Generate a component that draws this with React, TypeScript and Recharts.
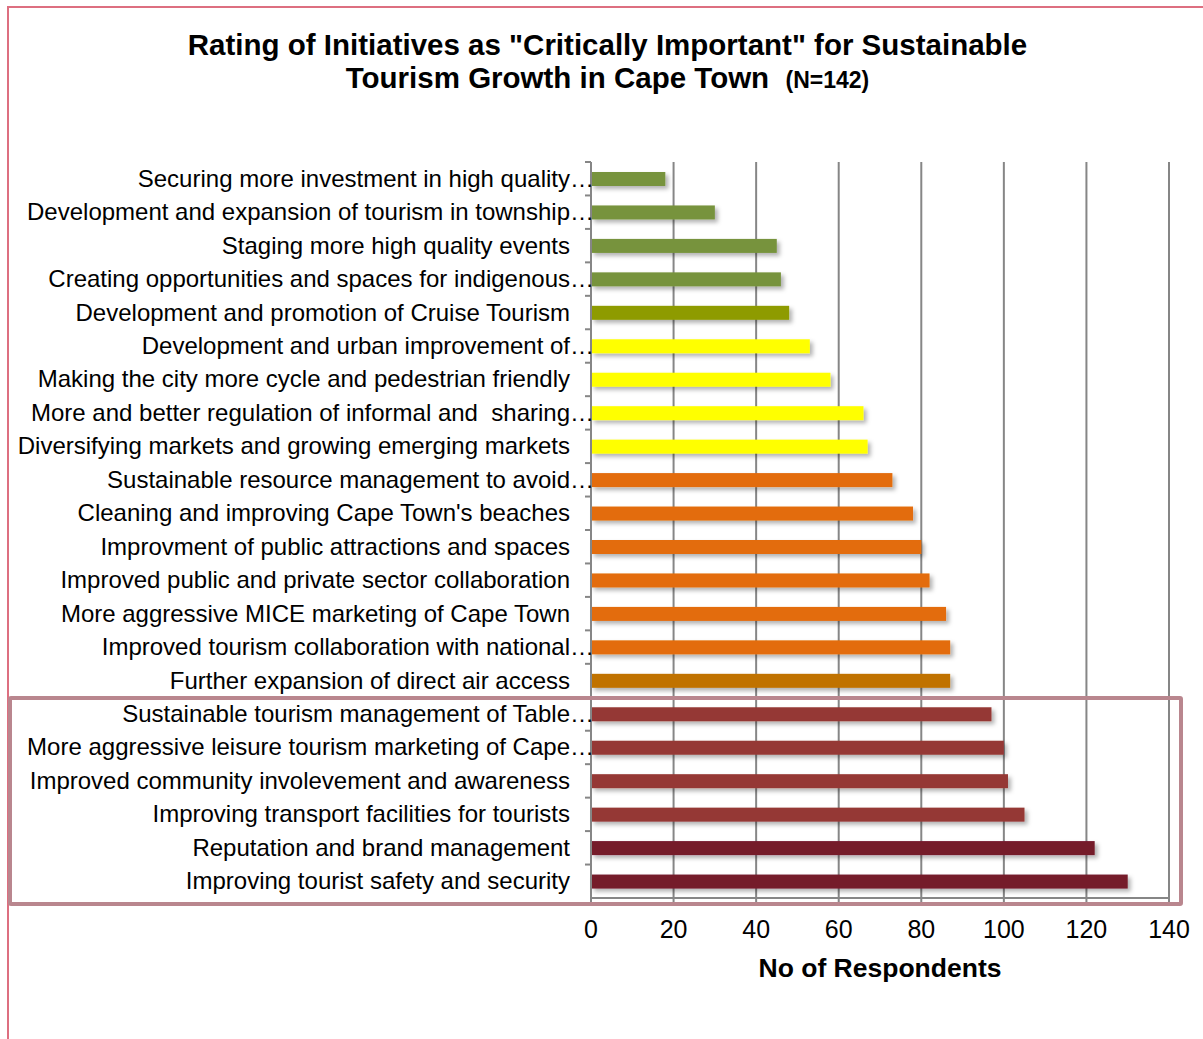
import React from 'react';
import { BarChart, Bar, XAxis, YAxis, CartesianGrid, Cell } from 'recharts';

// Initiatives, top of the chart first
const initiatives = [
  'Securing more investment in high quality…',
  'Development and expansion of tourism in township…',
  'Staging more high quality events ',
  'Creating opportunities and spaces for indigenous…',
  'Development and promotion of Cruise Tourism ',
  'Development and urban improvement of…',
  'Making the city more cycle and pedestrian friendly ',
  'More and better regulation of informal and  sharing…',
  'Diversifying markets and growing emerging markets  ',
  'Sustainable resource management to avoid…',
  "Cleaning and improving Cape Town's beaches ",
  'Improvment of public attractions and spaces ',
  'Improved public and private sector collaboration ',
  'More aggressive MICE marketing of Cape Town  ',
  'Improved tourism collaboration with national…',
  'Further expansion of direct air access ',
  'Sustainable tourism management of Table…',
  'More aggressive leisure tourism marketing of Cape…',
  'Improved community involevement and awareness ',
  'Improving transport facilities for tourists ',
  'Reputation and brand management ',
  'Improving tourist safety and security ',
];

// Respondents rating each initiative "critically important"
const respondents = [18, 30, 45, 46, 48, 53, 58, 66, 67, 73, 78, 80, 82, 86, 87, 87, 97, 100, 101, 105, 122, 130];

const xTicks = [0, 20, 40, 60, 80, 100, 120, 140];

const barColors = [
  '#77933C', '#77933C', '#77933C', '#77933C', '#8E9B00',
  '#FFFF00', '#FFFF00', '#FFFF00', '#FFFF00',
  '#E36C0A', '#E36C0A', '#E36C0A', '#E36C0A', '#E36C0A', '#E36C0A', '#C07200',
  '#953735', '#953735', '#953735', '#953735', '#741B2B', '#741B2B',
];

const data = initiatives.map((name, i) => ({ name, value: respondents[i] }));

const FONT = '"Liberation Sans", Arial, sans-serif';
const PLOT_TOP = 162;
const PLOT_BOTTOM = 898;
const HALF_BAND = (PLOT_BOTTOM - PLOT_TOP) / initiatives.length / 2;

const CategoryTick = (props: any) => {
  const { x, y, payload } = props;
  const label: string = payload.value;
  const clipped = label.endsWith('…');
  return (
    <g>
      <line x1={x + 2} x2={x + 8} y1={y - HALF_BAND} y2={y - HALF_BAND} stroke="#868686" strokeWidth={2} />
      <text
        x={clipped ? x + 11 : x - 13}
        y={y}
        dy={8}
        textAnchor="end"
        fontSize={24}
        fill="#000"
        style={{ whiteSpace: 'pre', fontFamily: FONT }}
      >
        {label.trimEnd()}
      </text>
    </g>
  );
};

const ShadowBar = (props: any) => {
  const { x, y, width, height, fill } = props;
  return <rect x={x} y={y} width={width} height={height} fill={fill} filter="url(#barShadow)" />;
};

export default function App() {
  return (
    <div style={{ position: 'absolute', left: 0, top: 0, width: 1203, height: 1039, background: '#fff', fontFamily: FONT }}>
      <svg width={0} height={0} style={{ position: 'absolute' }}>
        <defs>
          <filter id="barShadow" x="-5%" y="-50%" width="115%" height="250%">
            <feDropShadow dx={3} dy={3} stdDeviation={2} floodColor="#000" floodOpacity={0.3} />
          </filter>
        </defs>
      </svg>

      {/* frame edges */}
      <div style={{ position: 'absolute', left: 7, top: 6, width: 2, height: 1033, background: '#DD6F80' }} />
      <div style={{ position: 'absolute', left: 7, top: 6, width: 1196, height: 2, background: '#DD6F80' }} />

      <div style={{ position: 'absolute', left: 0, top: 28, width: 1215, textAlign: 'center', fontWeight: 'bold', fontSize: 29.5, lineHeight: '33px', color: '#000' }}>
        <div>Rating of Initiatives as "Critically Important" for Sustainable</div>
        <div>
          Tourism Growth in Cape Town&nbsp;&nbsp;<span style={{ fontSize: 23 }}>(N=142)</span>
        </div>
      </div>

      <div style={{ position: 'absolute', left: 0, top: 0 }}>
        <BarChart
          width={1203}
          height={1039}
          data={data}
          layout="vertical"
          margin={{ top: PLOT_TOP, right: 34, bottom: 0, left: 0 }}
          barCategoryGap={0}
        >
          <CartesianGrid horizontal={false} stroke="#868686" strokeWidth={2} />
          <XAxis
            type="number"
            domain={[0, 140]}
            ticks={xTicks}
            interval={0}
            tickSize={6}
            stroke="#868686"
            strokeWidth={2}
            tick={{ fill: '#000', fontSize: 25, fontFamily: FONT }}
            tickMargin={16}
            height={1039 - PLOT_BOTTOM}
            label={{ value: 'No of Respondents', position: 'insideTop', offset: 60, fill: '#000', fontSize: 26.5, fontWeight: 'bold', fontFamily: FONT }}
          />
          <YAxis
            type="category"
            dataKey="name"
            width={591}
            tick={<CategoryTick />}
            tickLine={false}
            interval={0}
            stroke="#868686"
            strokeWidth={2}
          />
          <Bar dataKey="value" barSize={14} isAnimationActive={false} shape={<ShadowBar />}>
            {data.map((d, i) => (
              <Cell key={d.name} fill={barColors[i]} />
            ))}
          </Bar>
        </BarChart>
      </div>

      {/* highlight round the top six initiatives */}
      <div style={{ position: 'absolute', left: 8, top: 696, width: 1167, height: 202, border: '4px solid #B9868E', borderRadius: 3, pointerEvents: 'none' }} />
    </div>
  );
}
